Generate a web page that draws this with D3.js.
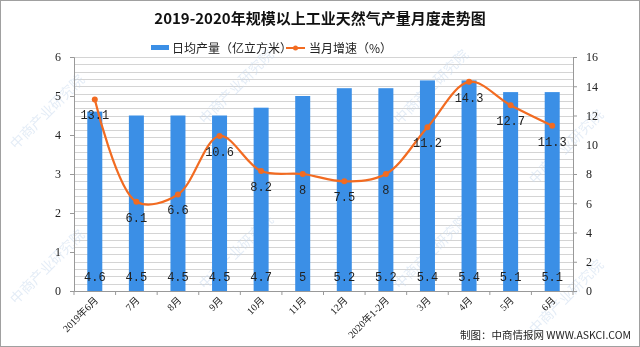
<!DOCTYPE html>
<html><head><meta charset="utf-8">
<script src="https://cdn.jsdelivr.net/npm/d3@7"></script>
<style>body{margin:0;background:#fff}svg{display:block}</style>
</head><body><svg id="c" width="640" height="347"></svg>
<script>
const categories = ["2019年6月","7月","8月","9月","10月","11月","12月","2020年1-2月","3月","4月","5月","6月"];
const dailyOutput = [4.6,4.5,4.5,4.5,4.7,5,5.2,5.2,5.4,5.4,5.1,5.1];
const growthRate = [13.1,6.1,6.6,10.6,8.2,8,7.5,8,11.2,14.3,12.7,11.3];
const leftTicks = [0,1,2,3,4,5,6];
const rightTicks = [0,2,4,6,8,10,12,14,16];

const svg = d3.select("#c");
const W=640,H=347, L=74, R=573, T=57, B=291;
const serif = "'Liberation Serif','DejaVu Serif','Noto Sans CJK SC',serif";
const cjk = "'Noto Sans CJK SC','DejaVu Sans',sans-serif";

svg.append("rect").attr("x",0.5).attr("y",0.5).attr("width",W-1).attr("height",H-1).attr("fill","#fff").attr("stroke","#a0a0a0");

const x = d3.scaleBand().domain(categories).range([L,R]);
const yL = d3.scaleLinear().domain([0,6]).range([B,T]);
const yR = d3.scaleLinear().domain([0,16]).range([B,T]);

// gridlines
svg.append("g").selectAll("line").data(d3.range(0,16.01,0.5)).join("line")
  .attr("x1",L).attr("x2",R).attr("y1",d=>Math.round(yR(d))+0.5).attr("y2",d=>Math.round(yR(d))+0.5)
  .attr("stroke","#d4d4d4").attr("stroke-width",1);

// watermark
const wm = svg.append("g").attr("fill","#c9daee").attr("opacity",0.5).attr("font-family",cjk).attr("font-size",14);
[[16,150],[16,305],[205,125],[205,290],[400,125],[400,290],[535,185],[535,335]].forEach(([a,b])=>{
  wm.append("text").attr("transform",`translate(${a},${b}) rotate(-45)`).text("中商产业研究院");
});

// bars
const bw = 15;
svg.append("g").selectAll("rect").data(dailyOutput).join("rect")
  .attr("x",(d,i)=>x(categories[i])+x.bandwidth()/2-bw/2).attr("width",bw)
  .attr("y",d=>yL(d)).attr("height",d=>B-yL(d)).attr("fill","#3b8fe6");

// axes
const axL = svg.append("g").attr("transform",`translate(${L},0)`)
  .call(d3.axisLeft(yL).tickValues(leftTicks).tickSize(4).tickFormat(d3.format("d")));
const axR = svg.append("g").attr("transform",`translate(${R},0)`)
  .call(d3.axisRight(yR).tickValues(rightTicks).tickSize(4).tickFormat(d3.format("d")));
const axB = svg.append("g").attr("transform",`translate(0,${B})`)
  .call(d3.axisBottom(x).tickSize(0).tickFormat(""));
svg.append("g").selectAll("line").data(categories.concat(["end"])).join("line")
  .attr("x1",(d,i)=>L+i*x.step()).attr("x2",(d,i)=>L+i*x.step()).attr("y1",B).attr("y2",B+4).attr("stroke","#999");
[axL,axR,axB].forEach(a=>{
  a.selectAll("path").attr("stroke","#999");
  a.selectAll("line").attr("stroke","#999");
  a.selectAll("text").attr("font-family",serif).attr("font-size",12).attr("fill","#222");
});
axL.selectAll("text").attr("dx",-6);
axR.selectAll("text").attr("dx",6);

// x labels rotated
svg.append("g").selectAll("text").data(categories).join("text")
  .attr("transform",d=>`translate(${x(d)+x.bandwidth()/2+4},${B+10}) rotate(-45)`)
  .attr("text-anchor","end").attr("font-family",serif).attr("font-size",10).attr("fill","#222").text(d=>d);

// line
const cx = (d,i)=>x(categories[i])+x.bandwidth()/2;
const line = d3.line().x(cx).y(d=>yR(d)).curve(d3.curveCatmullRom.alpha(0.5));
svg.append("path").datum(growthRate).attr("d",line).attr("fill","none").attr("stroke","#f26b21").attr("stroke-width",2.2);
svg.append("g").selectAll("circle").data(growthRate).join("circle")
  .attr("cx",cx).attr("cy",d=>yR(d)).attr("r",3).attr("fill","#f26b21");

// labels
const numFont = "'Liberation Mono','DejaVu Sans Mono',monospace";
svg.append("g").selectAll("text").data(dailyOutput).join("text")
  .attr("x",cx).attr("y",B-10).attr("text-anchor","middle").attr("font-family",numFont).attr("font-size",12).attr("fill","#222")
  .text(d=>d);
svg.append("g").selectAll("text").data(growthRate).join("text")
  .attr("x",cx).attr("y",d=>yR(d)+20).attr("text-anchor","middle").attr("font-family",numFont).attr("font-size",12).attr("fill","#222")
  .text(d=>d);

// title
svg.append("text").attr("x",320).attr("y",24).attr("text-anchor","middle").attr("font-family",cjk).attr("font-weight","bold").attr("font-size",15).attr("fill","#111").text("2019-2020年规模以上工业天然气产量月度走势图");

// legend
svg.append("rect").attr("x",151).attr("y",45).attr("width",18).attr("height",5).attr("fill","#3b8fe6");
svg.append("text").attr("x",172).attr("y",53).attr("font-family",cjk).attr("font-size",12).attr("fill","#222").text("日均产量（亿立方米）");
svg.append("line").attr("x1",286).attr("x2",305).attr("y1",48).attr("y2",48).attr("stroke","#f26b21").attr("stroke-width",2);
svg.append("circle").attr("cx",295.5).attr("cy",48).attr("r",2.5).attr("fill","#f26b21");
svg.append("text").attr("x",309).attr("y",53).attr("font-family",cjk).attr("font-size",12).attr("fill","#222").text("当月增速（%）");

// source
svg.append("text").attr("x",631).attr("y",339).attr("text-anchor","end").attr("font-family",cjk).attr("font-size",10.5).attr("fill","#222").text("制图：中商情报网 WWW.ASKCI.COM");
</script></body></html>
